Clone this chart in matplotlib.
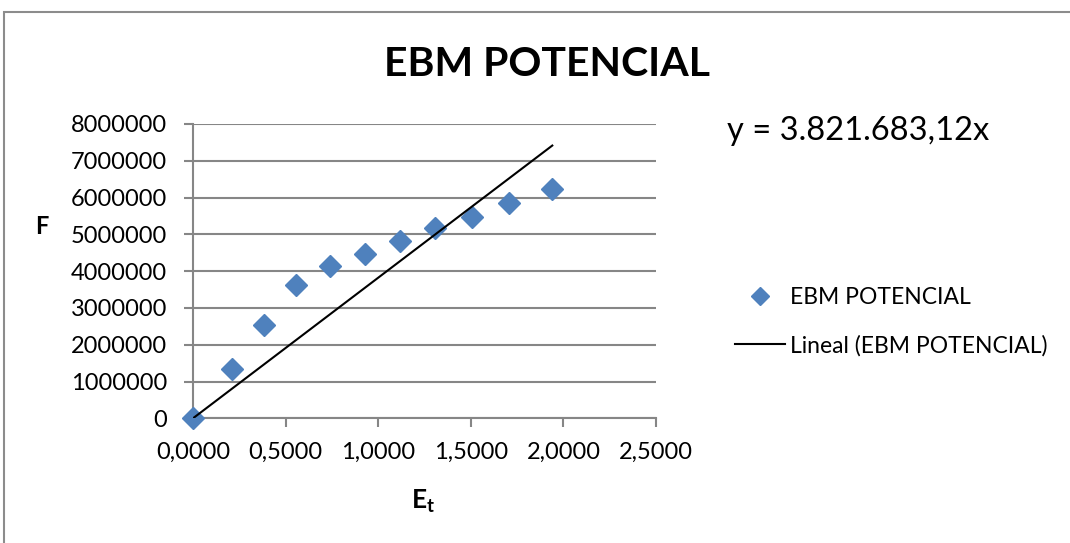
import matplotlib
matplotlib.use("Agg")
import matplotlib.pyplot as plt
from matplotlib.lines import Line2D
from matplotlib.patches import Rectangle
import numpy as np

plt.rcParams['font.family'] = ['Lato', 'DejaVu Sans']
plt.rcParams['mathtext.fontset'] = 'custom'
plt.rcParams['mathtext.rm'] = 'Lato'
plt.rcParams['mathtext.bf'] = 'Lato:bold'

# Data
et_values = [0.0, 0.211, 0.381, 0.558, 0.740, 0.927, 1.116, 1.308, 1.506, 1.704, 1.940]
f_values = [0, 1332000, 2528000, 3623000, 4140000, 4466000, 4810000, 5180000, 5480000, 5840000, 6220000]
slope = 3821683.12
x_ticks = [0.0, 0.5, 1.0, 1.5, 2.0, 2.5]
y_ticks = [0, 1000000, 2000000, 3000000, 4000000, 5000000, 6000000, 7000000, 8000000]
title = "EBM POTENCIAL"
series_label = "EBM POTENCIAL"
trend_label = "Lineal (EBM POTENCIAL)"
equation = "y = 3.821.683,12x"

W, H = 1070, 543
fig = plt.figure(figsize=(W / 100, H / 100), dpi=100)
fig.patch.set_facecolor('white')

# outer chart border
fig.add_artist(Rectangle((4 / W, -0.2), 1.2, 1.2 - 12 / H, transform=fig.transFigure,
                         fill=False, edgecolor='#8c8c8c', lw=1.5))

left, right, top, bottom = 193 / W, 656 / W, 124 / H, 418.3 / H
ax = fig.add_axes([left, 1 - bottom, right - left, bottom - top])

grid_c = '#868686'
ax.set_xlim(0, 2.5)
ax.set_ylim(0, 8000000)
ax.set_yticks(y_ticks)
ax.set_xticks(x_ticks)
ax.set_yticklabels([f"{v:d}" for v in y_ticks])
ax.set_xticklabels([f"{v:.4f}".replace('.', ',') for v in x_ticks])
ax.yaxis.grid(True, color=grid_c, lw=1.5)
ax.set_axisbelow(True)
for s in ['top', 'right']:
    ax.spines[s].set_visible(False)
for s in ['left', 'bottom']:
    ax.spines[s].set_color(grid_c)
    ax.spines[s].set_linewidth(1.5)
ax.tick_params(axis='both', colors=grid_c, width=1.5, length=6.3, labelsize=17, labelcolor='black')
ax.tick_params(axis='x', pad=10.5)
ax.tick_params(axis='y', pad=12.5)

ax.plot(et_values, f_values, linestyle='none', marker='D', markersize=11,
        color='#4F81BD', markeredgecolor='#4F81BD', clip_on=False, zorder=3)
xt = np.array([0.0, max(et_values)])
ax.plot(xt, slope * xt, color='black', lw=1.5, zorder=4)

fig.text(547 / W, 1 - 64 / H, title, ha='center', va='center', fontsize=29.5, fontweight='bold')
fig.text(727 / W, 1 - 131 / H, equation, ha='left', va='center', fontsize=23.5)
fig.text(42 / W, 1 - 227 / H, "F", ha='center', va='center', fontsize=17, fontweight='bold')
fig.text(423 / W, 1 - 501 / H, r"$\mathbf{E_t}$", ha='center', va='center', fontsize=19)

handles = [Line2D([], [], linestyle='none', marker='D', markersize=9, color='#4F81BD'),
           Line2D([], [], color='black', lw=1.5)]
fig.legend(handles, [series_label, trend_label], loc='center left',
           bbox_to_anchor=(735 / W, 1 - 321.5 / H), frameon=False, fontsize=16.5,
           handlelength=2.18, handletextpad=0.22, borderpad=0, borderaxespad=0,
           labelspacing=1.17)

fig.savefig("out.png", dpi=100)
